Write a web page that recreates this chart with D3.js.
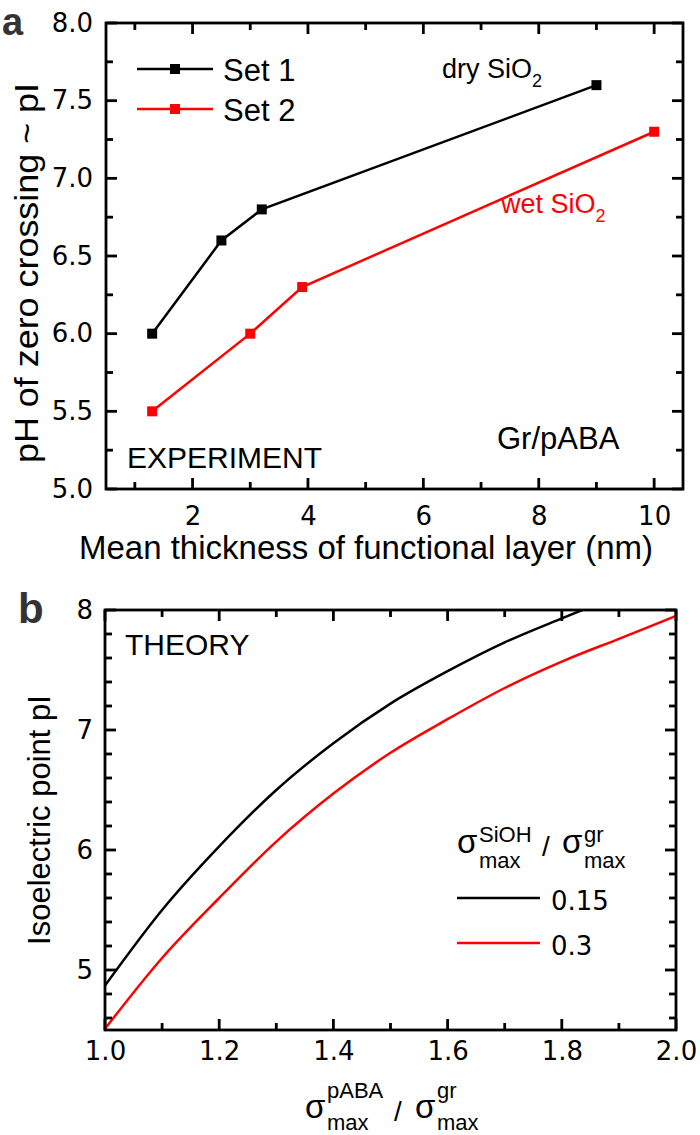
<!DOCTYPE html>
<html lang="en">
<head>
<meta charset="utf-8">
<title>pI vs layer thickness</title>
<script src="https://cdn.jsdelivr.net/npm/d3@7"></script>
<style>
  body { margin: 0; background: #fff; }
  text { font-family: "Liberation Sans", Arial, sans-serif; }
</style>
</head>
<body>
<script>
// size of page
var w = 700, h = 1135;

// panel a data (experiment)
var set1X = [1.3, 2.5, 3.2, 9.0];
var set1Y = [6.0, 6.6, 6.8, 7.6];
var set2X = [1.3, 3.0, 3.9, 10.0];
var set2Y = [5.5, 6.0, 6.3, 7.3];

// panel b data (theory)
var ratio = [1.0, 1.1, 1.2, 1.3, 1.4, 1.5, 1.6, 1.7, 1.8, 1.9, 2.0];
var pi015 = [4.87, 5.50, 6.03, 6.50, 6.89, 7.22, 7.49, 7.73, 7.93, 8.12, 8.30];
var pi03  = [4.51, 5.10, 5.60, 6.07, 6.47, 6.81, 7.09, 7.35, 7.57, 7.76, 7.95];

// ticks
var aXMajor = [2, 4, 6, 8, 10], aXMinor = [1, 3, 5, 7, 9];
var aYMajor = [5.0, 5.5, 6.0, 6.5, 7.0, 7.5, 8.0];
var aYMinor = [5.25, 5.75, 6.25, 6.75, 7.25, 7.75];
var bXMajor = [1.0, 1.2, 1.4, 1.6, 1.8, 2.0], bXMinor = [1.1, 1.3, 1.5, 1.7, 1.9];
var bYMajor = [5, 6, 7, 8];
var bYMinor = [4.6, 4.8, 5.2, 5.4, 5.6, 5.8, 6.2, 6.4, 6.6, 6.8, 7.2, 7.4, 7.6, 7.8];

var svg = d3.select("body").append("svg")
    .attr("width", w)
    .attr("height", h);

// boxed frame and tick labels from d3 axes
function frame(x, y, xMaj, yMaj, fx, fy, padX, padY) {
  var x0 = x.range()[0], x1 = x.range()[1];
  var y0 = y.range()[0], y1 = y.range()[1];
  var g = svg.append("g");

  g.append("rect")
    .attr("x", x0).attr("y", y1)
    .attr("width", x1 - x0).attr("height", y0 - y1)
    .attr("fill", "none")
    .attr("stroke", "#000")
    .attr("stroke-width", 2.8);

  function labels(axis, tx, ty) {
    var a = g.append("g").attr("transform", "translate(" + tx + "," + ty + ")").call(axis);
    a.select(".domain").remove();
    a.selectAll("line").remove();
    a.selectAll("text")
      .attr("fill", "#000")
      .style("font-family", "'DejaVu Sans', sans-serif")
      .style("font-size", "26px");
  }
  labels(d3.axisBottom(x).tickValues(xMaj).tickSize(0).tickPadding(padX).tickFormat(fx), 0, y0);
  labels(d3.axisLeft(y).tickValues(yMaj).tickSize(0).tickPadding(padY).tickFormat(fy), x0, 0);
}

// inward tick marks on every side, drawn last so nothing hides them
function ticks(x, y, xMaj, xMin, yMaj, yMin) {
  var x0 = x.range()[0], x1 = x.range()[1];
  var y0 = y.range()[0], y1 = y.range()[1];
  var tg = svg.append("g").attr("stroke", "#000").attr("stroke-width", 2.8);

  function xticks(vals, len) {
    [[y0, -len], [y1, len]].forEach(function(p) {
      tg.selectAll(null).data(vals).enter().append("line")
        .attr("x1", function(v) { return x(v); })
        .attr("x2", function(v) { return x(v); })
        .attr("y1", p[0])
        .attr("y2", p[0] + p[1]);
    });
  }
  function yticks(vals, len) {
    [[x0, len], [x1, -len]].forEach(function(p) {
      tg.selectAll(null).data(vals).enter().append("line")
        .attr("y1", function(v) { return y(v); })
        .attr("y2", function(v) { return y(v); })
        .attr("x1", p[0])
        .attr("x2", p[0] + p[1]);
    });
  }
  xticks(xMaj, 11); xticks(xMin, 7);
  yticks(yMaj, 11); yticks(yMin, 7);
}

function label(txt, x, y, size, opts) {
  opts = opts || {};
  return svg.append("text")
    .attr("x", x).attr("y", y)
    .attr("font-size", size)
    .attr("fill", opts.fill || "#000")
    .attr("font-weight", opts.bold ? "bold" : null)
    .attr("text-anchor", opts.anchor || "start")
    .text(txt);
}

// sigma with a superscript and "max" subscript
function sigma(x, y, sup, supDy, subDy) {
  label("\u03c3", x, y, 33);
  label(sup, x + 22, y - supDy, 22);
  label("max", x + 22, y + subDy, 22);
}

// ---------- panel a ----------
var xa = d3.scaleLinear().domain([0.5, 10.5]).range([106, 683]);
var ya = d3.scaleLinear().domain([5, 8]).range([489, 23]);

frame(xa, ya, aXMajor, aYMajor, d3.format("d"), d3.format(".1f"), 18, 13);

var lineA = d3.line().x(function(d) { return xa(d[0]); }).y(function(d) { return ya(d[1]); });
var seriesA = [
  { xs: set1X, ys: set1Y, color: "#000" },
  { xs: set2X, ys: set2Y, color: "#ff0000" }
];
seriesA.forEach(function(s) {
  var pts = s.xs.map(function(v, i) { return [v, s.ys[i]]; });
  svg.append("path")
    .attr("d", lineA(pts))
    .attr("fill", "none")
    .attr("stroke", s.color)
    .attr("stroke-width", 2.5);
  svg.selectAll(null)
    .data(pts)
    .enter()
    .append("rect")
    .attr("x", function(d) { return xa(d[0]) - 5; })
    .attr("y", function(d) { return ya(d[1]) - 5; })
    .attr("width", 10).attr("height", 10)
    .attr("fill", s.color);
});

// legend a
[{ name: "Set 1", color: "#000" }, { name: "Set 2", color: "#ff0000" }].forEach(function(s, i) {
  var ly = 69 + i * 40;
  svg.append("line").attr("x1", 137).attr("x2", 213).attr("y1", ly).attr("y2", ly)
    .attr("stroke", s.color).attr("stroke-width", 2.5);
  svg.append("rect").attr("x", 170).attr("y", ly - 5).attr("width", 10).attr("height", 10).attr("fill", s.color);
  label(s.name, 223, ly + 12, 31);
});

var dry = label("dry SiO", 442, 78, 27);
dry.append("tspan").attr("font-size", 18).attr("dy", 9).text("2");
var wet = label("wet SiO", 501, 213, 27, { fill: "#ff0000" });
wet.append("tspan").attr("font-size", 18).attr("dy", 9).text("2");

label("EXPERIMENT", 127, 468, 30);
label("Gr/pABA", 497, 449, 31);
label("Mean thickness of functional layer (nm)", 366, 559, 33, { anchor: "middle" });
svg.append("text")
  .attr("transform", "translate(38,273) rotate(-90)")
  .attr("text-anchor", "middle")
  .attr("font-size", 33)
  .attr("textLength", 380)
  .attr("lengthAdjust", "spacingAndGlyphs")
  .text("pH of zero crossing ~ pI");
label("a", 2, 35, 38, { bold: true, fill: "#333" });

// ---------- panel b ----------
var xb = d3.scaleLinear().domain([1, 2]).range([105, 676]);
var yb = d3.scaleLinear().domain([4.5, 8]).range([1030, 610]);

svg.append("clipPath").attr("id", "clipb")
  .append("rect").attr("x", 105).attr("y", 610).attr("width", 571).attr("height", 420);

frame(xb, yb, bXMajor, bYMajor, d3.format(".1f"), d3.format("d"), 12, 12);

var lineB = d3.line()
  .x(function(d) { return xb(d[0]); })
  .y(function(d) { return yb(d[1]); })
  .curve(d3.curveMonotoneX);
[{ ys: pi015, color: "#000" }, { ys: pi03, color: "#ff0000" }].forEach(function(s) {
  svg.append("path")
    .attr("clip-path", "url(#clipb)")
    .attr("d", lineB(ratio.map(function(v, i) { return [v, s.ys[i]]; })))
    .attr("fill", "none")
    .attr("stroke", s.color)
    .attr("stroke-width", 2.5);
});

label("THEORY", 125, 655, 30);

// legend b
sigma(457, 853, "SiOH", 11, 15);
label("/", 542, 856, 28);
sigma(562, 853, "gr", 11, 15);
[{ name: "0.15", color: "#000" }, { name: "0.3", color: "#ff0000" }].forEach(function(s, i) {
  var ly = 898 + i * 45;
  svg.append("line").attr("x1", 457).attr("x2", 540).attr("y1", ly).attr("y2", ly)
    .attr("stroke", s.color).attr("stroke-width", 2.5);
  label(s.name, 551, ly + 12, 26).style("font-family", "'DejaVu Sans', sans-serif");
});

// x label b
sigma(305, 1118, "pABA", 20, 12);
label("/", 394, 1121, 28);
sigma(415, 1118, "gr", 20, 12);

svg.append("text")
  .attr("transform", "translate(50,820) rotate(-90)")
  .attr("text-anchor", "middle")
  .attr("font-size", 31)
  .text("Isoelectric point pI");
label("b", 18, 623, 42, { bold: true, fill: "#333" });

// ticks for both panels
ticks(xa, ya, aXMajor, aXMinor, aYMajor, aYMinor);
ticks(xb, yb, bXMajor, bXMinor, bYMajor, bYMinor);
</script>
</body>
</html>
